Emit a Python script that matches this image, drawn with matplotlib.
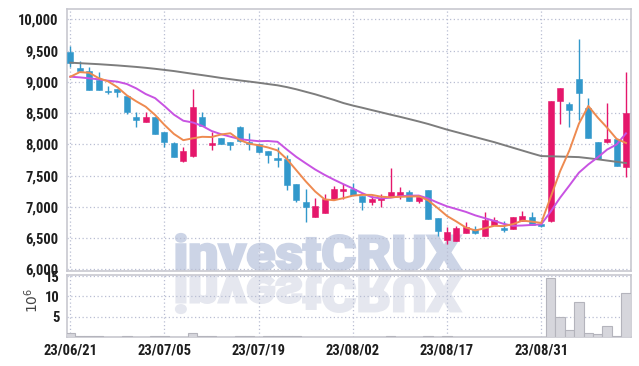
import numpy as np
import matplotlib.pyplot as plt
from matplotlib.textpath import TextPath
from matplotlib.patches import PathPatch
from matplotlib.font_manager import FontProperties
from matplotlib.transforms import Affine2D
from matplotlib.ticker import FuncFormatter

# 일봉 데이터 (화면에서 읽은 값)
opens = [9470, 9220, 9170, 9030, 8850, 8880, 8770, 8440, 8360, 8430,
         8190, 8015, 7740, 7820, 8430, 7990, 8100, 8030, 8275, 8040,
         8000, 7890, 7770, 7765, 7365, 7070, 6830, 6895, 7125, 7260,
         7285, 7180, 7080, 7115, 7150, 7180, 7230, 7100, 7270, 6820,
         6470, 6460, 6575, 6645, 6540, 6710, 6660, 6640, 6775, 6840,
         6725, 6775, 8700, 8645, 9045, 8575, 8030, 8030, 8080, 7640]
highs = [9570, 9340, 9230, 9160, 8930, 8890, 8780, 8510, 8520, 8430,
         8190, 8040, 7950, 8890, 8520, 8190, 8100, 8040, 8285, 8185,
         8000, 7890, 7950, 7830, 7370, 7285, 7135, 7205, 7340, 7365,
         7375, 7180, 7180, 7205, 7615, 7310, 7270, 7155, 7275, 6820,
         6670, 6700, 6750, 6700, 6910, 6830, 6780, 6840, 6940, 6910,
         6730, 8700, 8900, 8670, 9680, 8735, 8040, 8665, 8085, 9150]
lows = [9230, 9160, 8870, 8870, 8800, 8760, 8480, 8270, 8350, 8160,
        7950, 7790, 7720, 7800, 8290, 7910, 8000, 7910, 8035, 7910,
        7860, 7705, 7640, 7270, 7070, 6750, 6830, 6895, 7120, 7125,
        7185, 6950, 7030, 7000, 7150, 7120, 7095, 7065, 6800, 6530,
        6400, 6450, 6575, 6570, 6540, 6705, 6600, 6640, 6770, 6705,
        6680, 6750, 8320, 8270, 8390, 8100, 7760, 8025, 7650, 7470]
closes = [9300, 9170, 8870, 8870, 8830, 8830, 8520, 8390, 8440, 8170,
          8030, 7800, 7890, 8590, 8290, 8010, 8005, 7990, 8045, 8000,
          7880, 7830, 7755, 7350, 7110, 6990, 7020, 7125, 7280, 7280,
          7190, 7080, 7125, 7135, 7230, 7230, 7100, 7150, 6805, 6620,
          6590, 6655, 6670, 6575, 6790, 6790, 6630, 6830, 6855, 6710,
          6685, 8690, 8895, 8550, 8825, 8105, 7765, 8080, 7660, 8495]

# 이동평균선 (5일, 10일, 장기)
ma5 = [9080, 9155, 9145, 9060, 9008, 8914, 8784, 8688, 8602, 8470,
       8310, 8166, 8066, 8096, 8120, 8116, 8157, 8177, 8068, 8010,
       7984, 7949, 7902, 7763, 7585, 7407, 7245, 7119, 7105, 7139,
       7179, 7191, 7191, 7162, 7152, 7160, 7164, 7169, 7103, 6981,
       6853, 6764, 6668, 6622, 6656, 6696, 6691, 6723, 6779, 6763,
       6742, 7154, 7567, 7906, 8329, 8613, 8428, 8265, 8087, 8021]
ma10 = [9082, 9071, 9056, 9040, 9018, 9002, 8965, 8895, 8805, 8739,
        8612, 8475, 8377, 8349, 8295, 8213, 8162, 8122, 8082, 8065,
        8050, 8053, 8040, 7916, 7798, 7696, 7597, 7511, 7434, 7362,
        7293, 7218, 7155, 7134, 7146, 7170, 7178, 7180, 7133, 7067,
        7007, 6964, 6919, 6863, 6819, 6775, 6728, 6696, 6701, 6710,
        6719, 6923, 7145, 7343, 7546, 7678, 7791, 7916, 7997, 8175]
ma_long = [9306, 9298, 9290, 9282, 9272, 9262, 9250, 9238, 9224, 9208,
           9190, 9172, 9150, 9128, 9107, 9085, 9062, 9042, 9022, 9004,
           8985, 8964, 8944, 8915, 8880, 8840, 8800, 8755, 8710, 8660,
           8620, 8585, 8548, 8512, 8475, 8440, 8403, 8365, 8325, 8280,
           8235, 8195, 8155, 8115, 8075, 8035, 7990, 7945, 7900, 7855,
           7812, 7808, 7804, 7800, 7795, 7778, 7760, 7740, 7720, 7700]

# 거래량 (백만주)
volume = [1.1, 0.25, 0.25, 0.25, 0.05, 0.05, 0.25, 0.05, 0.05, 0.25,
          0.2, 0.05, 0.05, 1.1, 0.2, 0.2, 0.05, 0.05, 0.2, 0.2,
          0.05, 0.15, 0.15, 0.15, 0.15, 0.05, 0.05, 0.05, 0.05, 0.05,
          0.05, 0.05, 0.05, 0.05, 0.35, 0.05, 0.05, 0.05, 0.35, 0.05,
          0.3, 0.05, 0.05, 0.05, 0.05, 0.05, 0.05, 0.05, 0.05, 0.05,
          0.05, 14.6, 5.0, 1.85, 8.6, 1.1, 0.7, 2.7, 0.35, 10.8]

tick_pos = [0, 10, 20, 30, 40, 50]
tick_labels = ['23/06/21', '23/07/05', '23/07/19', '23/08/02', '23/08/17', '23/08/31']

W, H = 639, 366
plt.rcParams['font.family'] = ['Roboto Condensed', 'DejaVu Sans Condensed', 'Roboto', 'DejaVu Sans']

fig = plt.figure(figsize=(W / 100, H / 100), dpi=100)
ax = fig.add_axes([67 / W, 1 - 271 / H, 563.7 / W, 261.7 / H])
vax = fig.add_axes([67 / W, 1 - 337 / H, 563.7 / W, 62 / H], sharex=ax)

x = np.arange(len(closes))
o = np.array(opens)
c = np.array(closes)
up = c >= o
colors = np.where(up, '#E5176B', '#3298CB')

body_lo = np.minimum(o, c)
body_h = np.maximum(np.abs(c - o), 30)

ax.vlines(x, lows, highs, colors=colors, lw=1, zorder=3)
ax.bar(x, body_h, bottom=body_lo, width=0.64, color=colors,
       edgecolor=colors, linewidth=0.4, zorder=4)

ax.plot(x, ma_long, color='#7d7d7d', lw=1.4, zorder=5)
ax.plot(x, ma10, color='#C853E2', lw=1.4, zorder=5)
ax.plot(x, ma5, color='#EE8A50', lw=1.4, zorder=6)

vax.bar(x, volume, width=1.0, color='#d6d6dc', edgecolor='#b4b4bc',
        linewidth=0.8, zorder=3)

for a in (ax, vax):
    a.set_facecolor('none')
    a.grid(True, color='#b9bed3', linestyle=(0, (1, 2)), linewidth=0.9)
    a.set_axisbelow(True)
    for s in a.spines.values():
        s.set_color('#c8c8d0')
        s.set_linewidth(1.2)
    a.tick_params(length=0, colors='#1e1e1e')

ax.set_xlim(-0.35, 59.5)
ax.set_ylim(5973, 10160)
ax.set_yticks(np.arange(6000, 10001, 500))
ax.yaxis.set_major_formatter(FuncFormatter(lambda v, p: f'{int(v):,}'))
ax.tick_params(axis='y', labelsize=10.5, pad=6)
ax.set_xticks(tick_pos)
ax.tick_params(axis='x', labelbottom=False)

vax.set_ylim(0, 15.3)
vax.set_yticks([5, 10, 15])
vax.tick_params(axis='y', labelsize=10.5, pad=5)
vax.set_xticks(tick_pos)
vax.set_xticklabels(tick_labels)
vax.tick_params(axis='x', labelsize=10.5, pad=5)
for lab in ax.get_yticklabels() + vax.get_yticklabels() + vax.get_xticklabels():
    lab.set_fontweight('bold')

fig.text(32 / W, 1 - 300 / H, r'$10^{6}$', rotation=90, ha='center', va='center',
         fontsize=10, color='#444444')


# 워터마크 (글자 + 반사)
def watermark(x0, x1, y0, y1, color, flip=False):
    tp = TextPath((0, 0), 'investCRUX', size=100,
                  prop=FontProperties(family=['Roboto', 'DejaVu Sans'], weight='black'))
    ext = tp.get_extents()
    sx = (x1 - x0) / ext.width / W
    sy = (y1 - y0) / ext.height / H
    if flip:
        tr = Affine2D().translate(-ext.x0, -ext.y0).scale(sx, -sy).translate(x0 / W, 1 - y0 / H)
    else:
        tr = Affine2D().translate(-ext.x0, -ext.y0).scale(sx, sy).translate(x0 / W, 1 - y1 / H)
    patch = PathPatch(tr.transform_path(tp), facecolor=color, edgecolor=color,
                      linewidth=1.6, transform=fig.transFigure, zorder=-1)
    fig.add_artist(patch)


watermark(176, 461, 234, 270, '#ccd4e6')
watermark(176, 461, 276, 313, '#e5e7ef', flip=True)

fig.savefig('out.png', dpi=100, facecolor='white')
